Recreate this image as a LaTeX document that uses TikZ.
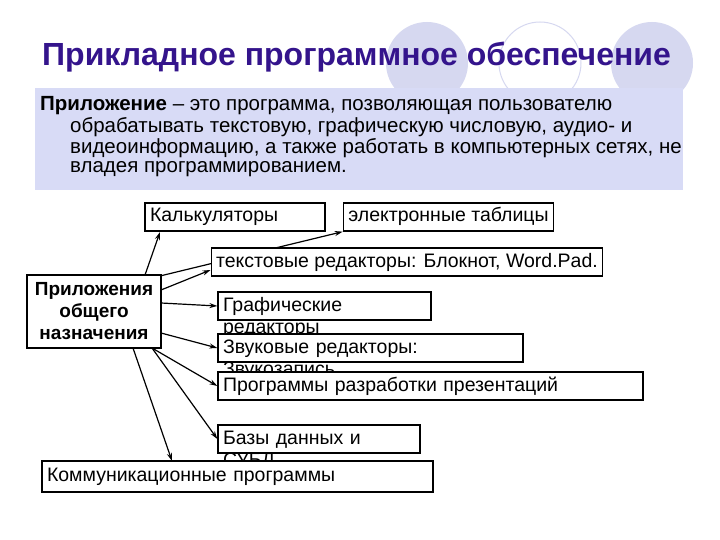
\documentclass[tikz,border=0pt]{standalone}
\usepackage{fontspec}
\setmainfont{Liberation Sans}
\usetikzlibrary{arrows.meta}
\begin{document}
\begin{tikzpicture}[x=1pt,y=-1pt,
  box/.style={draw=black,fill=white,line width=1.3pt,inner xsep=5pt,inner ysep=0pt,text height=14pt,text depth=4pt,font=\fontsize{19.5}{22}\selectfont},
  arr/.style={-{Stealth[length=8pt,width=5pt]},line width=1.2pt},
  txt/.style={anchor=west,inner sep=0pt,font=\fontsize{20.5}{24}\selectfont}]
\useasboundingbox (0,0) rectangle (720,540);
\fill[white] (0,0) rectangle (720,540);
\definecolor{circ}{RGB}{214,216,240}
\definecolor{panel}{RGB}{216,219,246}
\definecolor{ttl}{RGB}{52,20,140}
\fill[circ] (427,63) circle (41);
\draw[circ,line width=1pt] (540,63) circle (41);
\fill[circ] (652,63) circle (41);
\fill[panel] (35,88) rectangle (683,190);
\node[txt,font=\fontsize{32}{36}\selectfont\bfseries,text=ttl] (title) at (42,57) {Прикладное программное обеспечение};
\node[txt] (l1) at (40,106) {\textbf{Приложение} – это программа, позволяющая пользователю};
\node[txt] (l2) at (70,127) {обрабатывать текстовую, графическую числовую, аудио- и};
\node[txt] (l3) at (70,148) {видеоинформацию,  а также работать в компьютерных сетях, не};
\node[txt] (l4) at (70,169) {владея программированием.};
% main box
\node[box,minimum width=134pt,minimum height=73pt,align=center,text height=,text depth=,inner xsep=0pt,font=\fontsize{19}{22}\selectfont\bfseries] (main) at (94,311.5) {Приложения\\общего\\назначения};
\coordinate (e1) at (160,276);
\node[box,minimum width=201pt,minimum height=28pt] (etab) at (448.5,217) {электронные таблицы};
\draw[arr] (e1) -- (etab.south west);
\node[box,minimum width=180pt,minimum height=28pt,text width=170pt,align=left] (calc) at (235,217) {Калькуляторы};
\node[box,minimum width=370pt,minimum height=28pt] (text) at (407,262) {текстовые редакторы: Блокнот, Word.Pad.};
\node[box,minimum width=213pt,minimum height=28pt,text width=203pt,align=left] (graph) at (324.5,306) {Графические редакторы};
\node[box,minimum width=305pt,minimum height=28pt,text width=295pt,align=left] (snd) at (370.5,348) {Звуковые редакторы: Звукозапись};
\node[box,minimum width=425pt,minimum height=28pt,text width=415pt,align=left] (pres) at (430.5,386) {Программы разработки презентаций};
\node[box,minimum width=202pt,minimum height=28pt,text width=192pt,align=left] (db) at (319,439) {Базы данных и СУБД};
\node[box,minimum width=391pt,minimum height=31pt,text width=381pt,align=left] (comm) at (237.5,476.5) {Коммуникационные программы};
\coordinate (c1) at (145,275);
\coordinate (c2) at (161,290);
\coordinate (c3) at (161,303);
\coordinate (c4) at (161,333);
\coordinate (c5) at (152,348);
\coordinate (c6) at (133,348);
\draw[arr] (c1) -- (160,232) coordinate (k);
\draw[arr] (c2) -- (text.west |- 0,270);
\draw[arr] (c3) -- (graph.west);
\draw[arr] (c4) -- (snd.west);
\draw[arr] (c5) -- (pres.west);
\draw[arr] (c5) -- (db.west);
\draw[arr] (c6) -- (172,461);
\end{tikzpicture}
\end{document}
